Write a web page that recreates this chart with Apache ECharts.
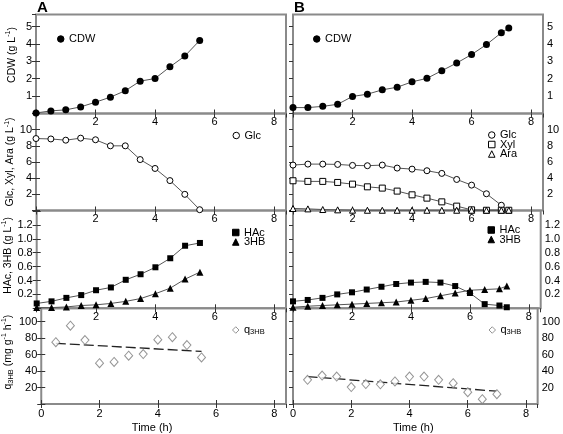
<!DOCTYPE html>
<html><head><meta charset="utf-8">
<script src="https://cdn.jsdelivr.net/npm/echarts@6/dist/echarts.min.js"></script>
<style>html,body{margin:0;padding:0;background:#fff}#c{width:563px;height:434px}</style>
</head><body><div id="c"></div>
<script>
// ---- Data ----
const timeA = [0, 0.5, 1, 1.5, 2, 2.5, 3, 3.5, 4, 4.5, 5, 5.5];
const cdwA = [0.03, 0.15, 0.21, 0.38, 0.65, 0.94, 1.31, 1.86, 2.01, 2.68, 3.3, 4.2];
const glcA = [8.9, 8.85, 8.7, 8.95, 8.75, 8.0, 8.0, 6.3, 5.2, 3.7, 2.0, 0.1];
const hacA = [0.07, 0.1, 0.15, 0.19, 0.26, 0.3, 0.41, 0.49, 0.59, 0.72, 0.9, 0.94];
const hbA = [0.01, 0.01, 0.02, 0.04, 0.05, 0.07, 0.1, 0.14, 0.21, 0.29, 0.42, 0.52];
const qTimeA = [0.5, 1, 1.5, 2, 2.5, 3, 3.5, 4, 4.5, 5, 5.5];
const qA = [75, 95, 77.5, 49.5, 51, 58.5, 60.5, 78, 81, 71.5, 56.5];
const fitTimeA = [0.5, 5.5];
const fitA = [73.5, 63.8];

const timeB = [0, 0.5, 1, 1.5, 2, 2.5, 3, 3.5, 4, 4.5, 5, 5.5, 6, 6.5, 7, 7.25];
const cdwB = [0.34, 0.34, 0.41, 0.53, 0.98, 1.11, 1.36, 1.51, 1.82, 2.02, 2.46, 2.9, 3.39, 3.96, 4.64, 4.91];
const glcTimeB = [0, 0.5, 1, 1.5, 2, 2.5, 3, 3.5, 4, 4.5, 5, 5.5, 6, 6.5, 7];
const glcB = [5.62, 5.74, 5.74, 5.7, 5.58, 5.54, 5.62, 5.25, 5.12, 4.92, 4.59, 3.84, 3.14, 2.07, 0.65];
const xylB = [3.68, 3.6, 3.6, 3.47, 3.26, 2.93, 2.77, 2.4, 1.94, 1.53, 1.07, 0.54, 0.08, 0.03, 0.03, 0.03];
const araB = [0.25, 0.2, 0.12, 0.08, 0.04, 0.03, 0.03, 0.03, 0.03, 0.03, 0.03, 0.03, 0.03, 0.03, 0.03, 0.03];
const hacB = [0.1, 0.12, 0.15, 0.2, 0.23, 0.27, 0.31, 0.35, 0.37, 0.38, 0.37, 0.32, 0.22, 0.06, 0.04, 0.015];
const hbB = [0.015, 0.03, 0.04, 0.05, 0.06, 0.07, 0.08, 0.09, 0.115, 0.14, 0.18, 0.22, 0.26, 0.27, 0.28, 0.32];
const qTimeB = [0.5, 1, 1.5, 2, 2.5, 3, 3.5, 4, 4.5, 5, 5.5, 6, 6.5, 7];
const qB = [29.3, 34.5, 33.3, 20.6, 24.2, 23.8, 27.3, 33.3, 33.3, 29.3, 25.3, 14.3, 5.9, 11.9];
const fitTimeB = [0.5, 7];
const fitB = [33.3, 15.5];

const xTicks = [0, 2, 4, 6, 8];
const panelLetters = ['A', 'B'];

// ---- Layout ----
const FONT = 'Liberation Sans, Arial, Helvetica, sans-serif';
const colLeft = [36, 293];
const colW = 250;
const rows = [
  {top: 14.5, h: 99, max: 5.69, interval: 1, fmt: v => (v > 0 && v <= 5 && Number.isInteger(v)) ? String(v) : ''},
  {top: 113.5, h: 97, max: 12, interval: 2, fmt: v => (v > 0 && v <= 10) ? String(v) : ''},
  {top: 210.5, h: 97.8, max: 1.407, interval: 0.2, fmt: v => (v > 0.01 && v < 1.3) ? v.toFixed(1) : ''},
  {top: 308.3, h: 96.6, max: 116, interval: 20, fmt: v => (v > 0 && v <= 100) ? String(v) : ''}
];
const yNames = [
  '{n|CDW (g L}{sup|-1}{n|)}',
  '{n|Glc, Xyl, Ara (g L}{sup|-1}{n|)}',
  '{n|HAc, 3HB (g L}{sup|-1}{n|)}',
  '{n|q}{sub|3HB}{n| (mg g}{sup|-1}{n| h}{sup|-1}{n|)}'
];
const yNamePad = [[0, 0, 0, 18], [0, 0, 0, 0], [0, 0, 0, 8], [0, 0, 0, 8]];
const rich = {
  n: {fontSize: 10.5, fontFamily: FONT, color: '#000', lineHeight: 14},
  sup: {fontSize: 7, fontFamily: FONT, color: '#000', verticalAlign: 'top', lineHeight: 14},
  sub: {fontSize: 7.5, fontFamily: FONT, color: '#000', verticalAlign: 'bottom', lineHeight: 14}
};

const grid = [], xAxis = [], yAxis = [], series = [];
const tickStyle = {show: true, inside: true, length: 4, lineStyle: {color: '#333', width: 1}};
for (let c = 0; c < 2; c++) {
  for (let r = 0; r < 4; r++) {
    const g = c * 4 + r;
    const R = rows[r];
    grid.push({left: colLeft[c], width: colW, top: R.top, height: R.h, show: true,
      borderColor: '#8a8a8a', borderWidth: 2, backgroundColor: 'transparent'});
    const last = r === 3;
    xAxis.push({type: 'value', gridIndex: g, min: 0, max: 8.4, interval: 2, position: 'bottom',
      axisLine: {show: false}, splitLine: {show: false}, axisTick: tickStyle,
      axisLabel: {margin: last ? 4 : 3, fontSize: 11, fontFamily: FONT, color: '#000', showMaxLabel: false,
        formatter: v => (xTicks.indexOf(v) >= 0 && (last || v !== 0)) ? String(v) : ''},
      name: last ? 'Time (h)' : '', nameLocation: 'middle', nameGap: 18,
      nameTextStyle: {fontSize: 11, fontFamily: FONT, color: '#000', padding: c === 0 ? [0, 23, 0, 0] : [0, 4, 0, 0]}
    });
    xAxis.push({type: 'value', gridIndex: g, min: 0, max: 8.4, interval: 2, position: 'top',
      axisLine: {show: false}, splitLine: {show: false}, axisTick: tickStyle, axisLabel: {show: false}});
    const main = {type: 'value', gridIndex: g, min: 0, max: R.max, interval: R.interval,
      position: c === 0 ? 'left' : 'right',
      axisLine: {show: false}, splitLine: {show: false}, axisTick: tickStyle,
      axisLabel: {margin: 4, fontSize: 11, fontFamily: FONT, color: '#000', showMaxLabel: false, formatter: R.fmt}};
    if (c === 0) {
      main.name = yNames[r];
      main.nameLocation = 'middle';
      main.nameGap = 17;
      main.nameRotate = 90;
      main.nameTextStyle = {rich: rich, padding: yNamePad[r]};
    }
    yAxis.push(main);
    yAxis.push({type: 'value', gridIndex: g, min: 0, max: R.max, interval: R.interval,
      position: c === 0 ? 'right' : 'left',
      axisLine: {show: false}, splitLine: {show: false},
      axisTick: c === 0 ? tickStyle : {show: false}, axisLabel: {show: false}});
  }
}

const LINE = {color: '#555', width: 1};
function pairs(xs, ys) { return xs.map((x, i) => [x, ys[i]]); }
function addLine(name, g, xs, ys, symbol, size, filled) {
  series.push({type: 'line', name: name, xAxisIndex: 2 * g, yAxisIndex: 2 * g,
    data: pairs(xs, ys), symbol: symbol, symbolSize: size, showSymbol: true,
    lineStyle: LINE, z: 3,
    itemStyle: filled ? {color: '#000', borderColor: '#000', borderWidth: 0}
                      : {color: '#fff', borderColor: '#000', borderWidth: 1},
    emphasis: {disabled: true}, animation: false});
}
function addQ(name, g, xs, ys, fx, fy) {
  series.push({type: 'line', name: name, xAxisIndex: 2 * g, yAxisIndex: 2 * g,
    data: pairs(fx, fy), symbol: 'none', lineStyle: {color: '#222', width: 1.3, type: [10, 4]},
    emphasis: {disabled: true}, animation: false, z: 2});
  series.push({type: 'scatter', name: 'q3HB', xAxisIndex: 2 * g, yAxisIndex: 2 * g,
    data: pairs(xs, ys), symbol: 'diamond', symbolSize: [8, 9],
    itemStyle: {color: '#fff', borderColor: '#7a7a7a', borderWidth: 1},
    emphasis: {disabled: true}, animation: false, z: 3});
}
// Column A
addLine('CDW', 0, timeA, cdwA, 'circle', 7, true);
addLine('Glc', 1, timeA, glcA, 'circle', 6, false);
addLine('HAc', 2, timeA, hacA, 'rect', 6, true);
addLine('3HB', 2, timeA, hbA, 'triangle', 7, true);
addQ('fitA', 3, qTimeA, qA, fitTimeA, fitA);
// Column B
addLine('CDW', 4, timeB, cdwB, 'circle', 7, true);
addLine('Glc', 5, glcTimeB, glcB, 'circle', 6, false);
addLine('Xyl', 5, timeB, xylB, 'rect', 6, false);
addLine('Ara', 5, timeB, araB, 'triangle', 6, false);
addLine('HAc', 6, timeB, hacB, 'rect', 6, true);
addLine('3HB', 6, timeB, hbB, 'triangle', 7, true);
addQ('fitB', 7, qTimeB, qB, fitTimeB, fitB);

function legend(items, left, top) {
  return {orient: 'vertical', left: left, top: top, padding: 0, itemGap: -2.5,
    itemWidth: 6.5, itemHeight: 6.5, selectedMode: false,
    itemStyle: {borderWidth: 1},
    data: items.map(it => ({name: it[0], icon: it[1]})),
    formatter: n => n === 'q3HB' ? '{q|q}{s|3HB}' : n,
    textStyle: {fontSize: 11, fontFamily: FONT, color: '#000', lineHeight: 12,
      rich: {q: {fontSize: 11, fontFamily: FONT, color: '#000'}, s: {fontSize: 7.5, fontFamily: FONT, color: '#000', verticalAlign: 'bottom'}}}};
}
const legends = [
  legend([['CDW', 'circle']], 57, 33),
  legend([['CDW', 'circle']], 313, 33),
  legend([['Glc', 'circle']], 232.5, 129.5),
  legend([['Glc', 'circle'], ['Xyl', 'rect'], ['Ara', 'triangle']], 488, 129),
  legend([['HAc', 'rect'], ['3HB', 'triangle']], 232, 226.5),
  legend([['HAc', 'rect'], ['3HB', 'triangle']], 487.5, 224),
  legend([['q3HB', 'diamond']], 232, 324),
  legend([['q3HB', 'diamond']], 488.5, 324)
];

const chart = echarts.init(document.getElementById('c'), null, {renderer: 'canvas'});
chart.setOption({
  backgroundColor: '#fff',
  animation: false,
  title: panelLetters.map((t, i) => ({text: t, left: colLeft[i] + 1, top: 0, padding: 0,
    textStyle: {fontSize: 15, fontWeight: 'bold', fontFamily: FONT, color: '#000'}})),
  legend: legends,
  grid: grid, xAxis: xAxis, yAxis: yAxis, series: series
});
</script></body></html>
